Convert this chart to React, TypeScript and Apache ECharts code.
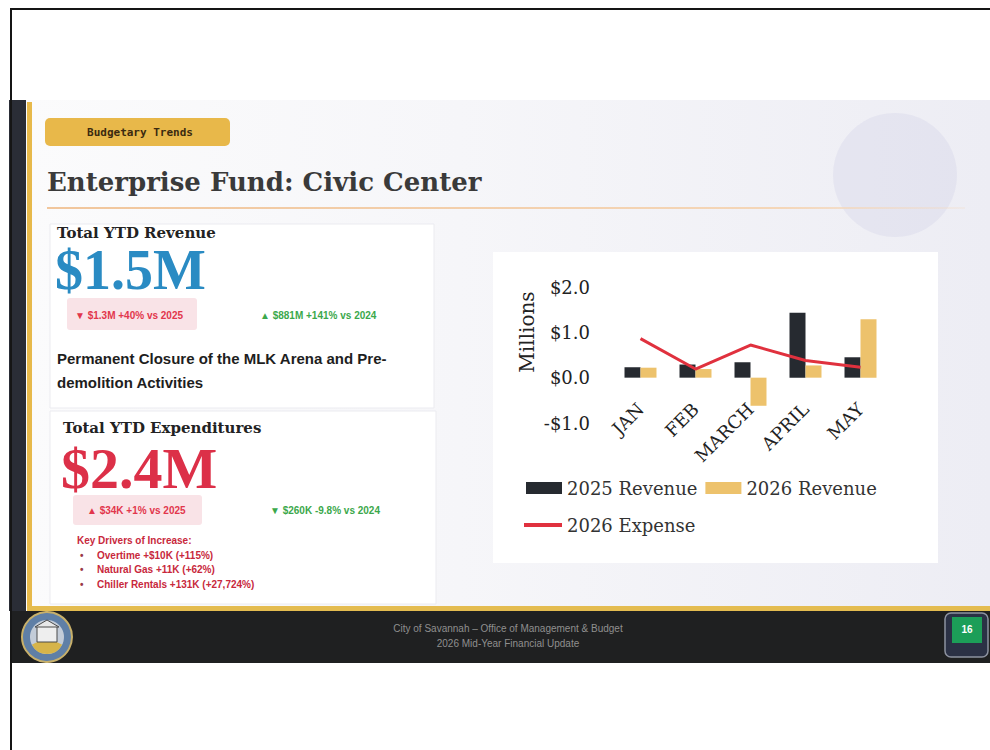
import React, { useEffect, useRef } from 'react';
import * as echarts from 'echarts';

const months = ['JAN', 'FEB', 'MARCH', 'APRIL', 'MAY'];
const revenue2025 = [0.23, 0.29, 0.34, 1.43, 0.45];
const revenue2026 = [0.22, 0.19, -0.62, 0.27, 1.29];
const expense2026 = [0.86, 0.19, 0.72, 0.38, 0.23];
const seriesNames = ['2025 Revenue', '2026 Revenue', '2026 Expense'];
const yMin = -1;
const yMax = 2;
const yStep = 1;

const kpiRevenue = ['Total YTD Revenue', '$1.5M', '▼ $1.3M +40% vs 2025', '▲ $881M +141% vs 2024'];
const revenueNote = ['Permanent Closure of the MLK Arena and Pre-', 'demolition Activities'];
const kpiExpense = ['Total YTD Expenditures', '$2.4M', '▲ $34K +1% vs 2025', '▼ $260K -9.8% vs 2024'];
const driversTitle = 'Key Drivers of Increase:';
const drivers = ['Overtime +$10K (+115%)', 'Natural Gas +11K (+62%)', 'Chiller Rentals +131K (+27,724%)'];
const footerLines = ['City of Savannah – Office of Management & Budget', '2026 Mid-Year Financial Update'];

const SERIF = '"DejaVu Serif", serif';
const SANS = '"Liberation Sans", Arial, sans-serif';

function txt(text: string, x: number, y: number, size: number, fill: string, opts: any = {}) {
  return {
    type: 'text',
    x,
    y,
    z: 5,
    style: {
      text,
      fill,
      fontSize: size,
      fontFamily: opts.family || SANS,
      fontWeight: opts.weight || 'normal',
      align: opts.align || 'left',
      verticalAlign: 'middle',
      lineHeight: opts.lineHeight || Math.round(size * 1.15),
    },
  };
}

export default function App() {
  const ref = useRef<HTMLDivElement>(null);
  useEffect(() => {
    if (!ref.current) return;
    const chart = echarts.init(ref.current, null, { renderer: 'svg' });
    const red = '#E2364C';
    const green = '#3BA84B';
    const elements: any[] = [
      // page borders
      { type: 'line', z: -1, shape: { x1: 10, y1: 9, x2: 990, y2: 9 }, style: { stroke: '#151515', lineWidth: 2 } },
      { type: 'line', z: -1, shape: { x1: 11, y1: 9, x2: 11, y2: 750 }, style: { stroke: '#151515', lineWidth: 2 } },
      // slide background
      {
        type: 'rect', z: -10, shape: { x: 26, y: 100, width: 964, height: 508 },
        style: {
          fill: new echarts.graphic.LinearGradient(0, 0, 1, 0, [
            { offset: 0, color: '#fbfbfc' },
            { offset: 0.45, color: '#f6f6f9' },
            { offset: 1, color: '#ededf4' },
          ]),
        },
      },
      { type: 'circle', z: -9, shape: { cx: 895, cy: 175, r: 62 }, style: { fill: 'rgba(205,205,228,0.3)' } },
      // left dark + gold bars
      { type: 'rect', z: -5, shape: { x: 9, y: 100, width: 17, height: 511 }, style: { fill: '#2a2d36' } },
      { type: 'rect', z: -5, shape: { x: 27, y: 102, width: 5, height: 507 }, style: { fill: '#E7B94B' } },
      { type: 'rect', z: -5, shape: { x: 27, y: 606, width: 963, height: 5 }, style: { fill: '#E4BC50' } },
      // footer
      { type: 'rect', z: -5, shape: { x: 11, y: 611, width: 979, height: 52 }, style: { fill: '#1f2021' } },
      // seal
      { type: 'circle', z: -4, shape: { cx: 47, cy: 637, r: 25 }, style: { fill: '#5f7fa6', stroke: '#c8b06a', lineWidth: 2 } },
      { type: 'circle', z: -4, shape: { cx: 47, cy: 637, r: 17 }, style: { fill: '#c3ccd8' } },
      { type: 'sector', z: -4, shape: { cx: 47, cy: 637, r: 17, r0: 0, startAngle: 0.15 * Math.PI, endAngle: 0.85 * Math.PI }, style: { fill: '#d6b44a' } },
      { type: 'rect', z: -3, shape: { x: 37, y: 626, width: 20, height: 16 }, style: { fill: '#eeeeee', stroke: '#4a4a4a', lineWidth: 1 } },
      { type: 'polygon', z: -3, shape: { points: [[35, 627], [47, 620], [59, 627]] }, style: { fill: '#e8e8e8', stroke: '#4a4a4a', lineWidth: 1 } },
      // page number
      { type: 'rect', z: -4, shape: { x: 945, y: 613, width: 43, height: 44, r: 6 }, style: { fill: '#2b3145', stroke: '#8d92a0', lineWidth: 1.5 } },
      { type: 'rect', z: -3, shape: { x: 952, y: 617, width: 30, height: 26 }, style: { fill: '#1C9E58' } },
      txt('16', 967, 629, 10, '#ffffff', { weight: 'bold', align: 'center' }),
      txt(footerLines[0], 508, 628, 10, '#8f8f8f', { align: 'center' }),
      txt(footerLines[1], 508, 643, 10, '#8f8f8f', { align: 'center' }),
      // header pill + title
      { type: 'rect', z: -4, shape: { x: 45, y: 118, width: 185, height: 28, r: 5 }, style: { fill: '#E8B84A' } },
      txt('Budgetary Trends', 140, 132, 11, '#3b2a10', { weight: 'bold', align: 'center', family: '"DejaVu Sans Mono", monospace' }),
      txt('Enterprise Fund: Civic Center', 47, 182, 26, '#3a3a3a', { weight: 'bold', family: SERIF }),
      {
        type: 'rect', z: -4, shape: { x: 47, y: 207, width: 918, height: 2 },
        style: {
          fill: new echarts.graphic.LinearGradient(0, 0, 1, 0, [
            { offset: 0, color: '#F1C69C' },
            { offset: 0.8, color: '#F4D6B8' },
            { offset: 1, color: 'rgba(244,214,184,0.2)' },
          ]),
        },
      },
      // left cards
      { type: 'rect', z: -4, shape: { x: 50, y: 224, width: 384, height: 184 }, style: { fill: '#ffffff', stroke: '#ebebf0', lineWidth: 1 } },
      { type: 'rect', z: -4, shape: { x: 50, y: 411, width: 386, height: 193 }, style: { fill: '#ffffff', stroke: '#ebebf0', lineWidth: 1 } },
      txt(kpiRevenue[0], 57, 233, 15, '#222222', { weight: 'bold', family: SERIF, lineHeight: 13 }),
      txt(kpiRevenue[1], 55, 270, 56, '#2A8BC3', { weight: 'bold', family: '"Liberation Serif", serif', lineHeight: 38 }),
      { type: 'rect', z: -3, shape: { x: 67, y: 298, width: 130, height: 32, r: 3 }, style: { fill: '#F9E3E7' } },
      txt(kpiRevenue[2], 75, 315, 10, red, { weight: 'bold' }),
      txt(kpiRevenue[3], 260, 315, 10, green, { weight: 'bold' }),
      txt(revenueNote[0], 57, 358, 15, '#1e1e1e', { weight: 'bold' }),
      txt(revenueNote[1], 57, 382, 15, '#1e1e1e', { weight: 'bold' }),
      txt(kpiExpense[0], 63, 428, 15, '#222222', { weight: 'bold', family: SERIF, lineHeight: 13 }),
      txt(kpiExpense[1], 61, 468, 58, '#DC3048', { weight: 'bold', family: '"Liberation Serif", serif', lineHeight: 40 }),
      { type: 'rect', z: -3, shape: { x: 73, y: 495, width: 129, height: 30, r: 3 }, style: { fill: '#F9E3E7' } },
      txt(kpiExpense[2], 87, 510, 10, red, { weight: 'bold' }),
      txt(kpiExpense[3], 270, 510, 10, green, { weight: 'bold' }),
      txt(driversTitle, 77, 540, 10, '#C8283C', { weight: 'bold' }),
      // chart card
      { type: 'rect', z: -4, shape: { x: 493, y: 252, width: 445, height: 311 }, style: { fill: '#ffffff' } },
      {
        type: 'text', z: 5, x: 527, y: 332, rotation: Math.PI / 2,
        style: { text: 'Millions', fill: '#222222', fontSize: 20, fontFamily: SERIF, align: 'center', verticalAlign: 'middle' },
      },
    ];
    drivers.forEach((d, i) => {
      const y = 555 + i * 14.5;
      elements.push(txt('•', 80, y, 10, '#9a3a48', { weight: 'bold' }));
      elements.push(txt(d, 97, y, 10, '#C8283C', { weight: 'bold' }));
    });

    const legendText = { fontFamily: SERIF, fontSize: 18, color: '#333333' };
    chart.setOption({
      animation: false,
      backgroundColor: '#ffffff',
      graphic: { elements },
      grid: { left: 613, right: 102, top: 287, bottom: 327 },
      legend: [
        {
          data: [seriesNames[0], seriesNames[1]], left: 521, top: 474, itemWidth: 36, itemHeight: 12, itemGap: 8,
          icon: 'rect', textStyle: legendText,
        },
        {
          data: [seriesNames[2]], left: 519, top: 511, itemWidth: 38, itemHeight: 4, icon: 'rect',
          textStyle: legendText,
        },
      ],
      xAxis: {
        type: 'category',
        z: 10,
        data: months,
        offset: -45,
        axisLine: { show: false, onZero: false },
        axisTick: { show: false },
        axisLabel: {
          rotate: 45, margin: 28, fontFamily: SERIF, fontSize: 18, color: '#222222', interval: 0,
          align: 'right', verticalAlign: 'middle',
        },
      },
      yAxis: {
        type: 'value',
        z: 10,
        min: yMin,
        max: yMax,
        interval: yStep,
        splitLine: { show: false },
        axisLine: { show: false },
        axisTick: { show: false },
        axisLabel: {
          margin: 23, fontFamily: SERIF, fontSize: 18, color: '#222222',
          formatter: (v: number) => (v < 0 ? '-$' + Math.abs(v).toFixed(1) : '$' + v.toFixed(1)),
        },
      },
      series: [
        { name: seriesNames[0], type: 'bar', data: revenue2025, barWidth: 16, barGap: '0%', itemStyle: { color: '#262A30' } },
        { name: seriesNames[1], type: 'bar', data: revenue2026, barWidth: 16, itemStyle: { color: '#EDC26C' } },
        {
          name: seriesNames[2], type: 'line', data: expense2026, symbol: 'none', z: 4,
          lineStyle: { color: '#E0313E', width: 3 }, itemStyle: { color: '#E0313E' },
        },
      ],
    });
    return () => chart.dispose();
  }, []);
  return <div ref={ref} style={{ position: 'absolute', left: 0, top: 0, width: 990, height: 750 }} />;
}
